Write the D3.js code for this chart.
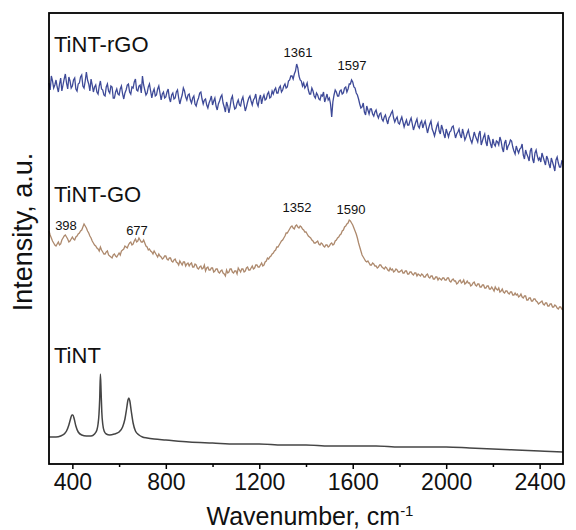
<!DOCTYPE html>
<html><head><meta charset="utf-8">
<script src="https://cdn.jsdelivr.net/npm/d3@7"></script>
<style>
body{margin:0;background:#fff;}
svg text{font-family:"Liberation Sans",Arial,sans-serif;fill:#111;}
</style></head>
<body><div id="chart"></div>
<script>
// ---------- DATA ----------
const xTicks = [400, 800, 1200, 1600, 2000, 2400];
const xMinorTicks = [600, 1000, 1400, 1800, 2200];
const seriesNames = ["TiNT-rGO", "TiNT-GO", "TiNT"];

// TiNT-rGO, sampled every 5 cm-1 from 300 to 2500 (intensity, a.u., offset)
const rgoStart = 300, rgoStep = 5;
const rgoValues = [
381,374,388,383,376,379,384,377,372,380,386,373,379,385,390,381,375,387,383,376,
378,384,386,375,373,380,381,387,389,378,376,383,392,384,380,373,385,379,372,377,
379,372,370,378,383,375,374,369,368,377,380,373,371,378,377,366,366,372,375,370,
369,375,378,370,365,371,374,379,380,372,370,377,376,382,385,374,373,378,379,371,
388,379,374,369,371,377,380,373,366,372,375,368,369,375,378,371,364,370,372,366,
367,372,375,366,362,369,371,365,366,372,374,366,360,365,369,376,373,367,364,369,
370,364,361,366,368,360,358,363,366,371,372,365,360,364,365,359,356,361,364,368,
359,363,366,358,354,360,363,367,369,361,357,352,362,358,351,357,365,368,360,355,
356,361,364,359,358,364,367,360,353,357,362,366,368,363,359,364,366,370,361,358,
365,369,360,366,369,364,365,370,372,366,367,373,370,374,376,371,371,376,378,372,
374,378,380,376,377,383,384,388,388,385,390,393,400,396,388,384,383,378,381,376,
378,381,374,370,370,376,373,368,366,371,369,365,364,369,368,372,362,366,370,364,
366,360,347,362,369,374,372,368,368,373,374,370,371,376,377,372,375,380,380,384,
382,377,376,371,369,365,360,356,357,361,352,349,358,354,350,355,355,350,348,352,
354,349,346,350,351,345,343,347,349,344,340,346,348,351,353,346,342,345,347,341,
340,344,347,342,337,341,344,339,339,343,346,340,334,338,342,345,338,336,341,343,
336,340,343,337,331,336,340,343,335,332,328,333,338,341,333,330,339,335,330,326,
335,331,327,332,333,337,338,332,326,330,332,335,329,326,335,330,324,327,331,334,
328,324,321,326,332,328,325,322,330,333,319,323,327,330,322,318,329,325,320,316,
325,320,318,323,322,319,327,323,316,312,321,324,314,318,320,324,323,317,313,310,
318,314,311,315,316,320,309,305,314,310,307,303,313,316,305,301,311,314,308,304,
306,302,311,307,303,299,308,305,300,296,306,302,298,293,304,307,301,297,297,303,
302];

// TiNT-GO, sampled every 5 cm-1 from 300 to 2500
const goStart = 300, goStep = 5;
const goValues = [
233,229,226,223,221,219,218,220,222,219,220,224,226,228,229,227,225,222,223,225,
227,225,224,227,228,230,231,233,234,237,240,238,236,233,231,228,226,223,221,219,
218,216,215,213,217,214,212,210,210,212,213,209,208,207,206,209,210,208,207,209,
211,209,213,214,215,218,217,216,219,221,222,219,220,223,225,222,223,226,224,222,
222,224,221,218,217,214,215,213,212,210,213,211,209,207,210,208,207,205,206,208,
208,205,204,206,206,203,202,204,205,202,201,199,203,201,199,202,202,198,200,201,
198,200,201,197,197,200,199,196,195,197,198,195,196,199,193,196,197,194,194,196,
196,192,193,195,195,192,191,193,194,191,190,188,194,191,192,195,195,192,191,193,
193,190,196,194,192,195,195,192,193,196,197,194,194,196,198,195,196,199,199,197,
197,199,201,198,199,202,203,206,205,207,208,210,211,213,214,217,217,219,221,223,
224,226,228,231,231,233,235,237,238,236,235,238,239,237,236,238,237,235,234,232,
232,230,228,227,226,224,223,221,221,222,223,220,219,221,220,218,217,219,219,217,
218,220,221,219,220,223,224,226,227,229,230,233,234,237,238,240,241,244,243,241,
239,236,233,230,226,221,217,213,209,207,205,203,202,203,201,199,199,201,200,198,
198,196,197,199,199,197,196,195,197,196,194,193,196,194,195,192,193,195,194,192,
192,193,194,191,191,193,193,190,190,192,192,190,189,191,191,188,190,189,188,190,
189,187,187,189,190,187,186,188,188,185,185,187,187,184,186,185,184,186,186,184,
184,186,186,183,182,184,185,183,183,180,181,183,184,181,182,184,180,181,183,181,
181,178,179,181,182,179,178,180,180,177,177,179,179,176,176,178,178,175,175,177,
175,173,177,175,174,176,172,173,175,172,171,173,173,171,170,172,172,169,169,171,
169,170,167,168,170,167,166,168,168,164,164,166,166,163,163,165,165,163,162,160,
161,162,163,160,159,161,161,158,158,160,160,157,157,159,158,156,155,157,157,155,
154];

// TiNT (wavenumber, intensity)
const tintX = [300,330,350,365,375,385,392,398,402,408,415,425,440,460,480,495,505,510,514,517,520,523,526,530,536,545,560,580,600,615,625,632,638,642,646,652,660,670,685,700,720,750,800,900,1000,1100,1200,1300,1400,1500,1600,1700,1800,1900,2000,2100,2200,2300,2400,2500];
const tintY = [27,27,28,30,33,39,45,49,49,45,38,32,29,28,28,30,34,40,50,65,90,72,52,40,33,30,29,30,32,37,45,55,64,66,63,53,41,33,29,27,26,25,24,22,21,20,20,19,19,18,18,18,17,17,17,16,15,14,13,12];

// Peak annotations
const rgoPeaks = ["1361", "1597"];
const goPeaks = ["398", "677", "1352", "1590"];

// ---------- LAYOUT ----------
const W = 576, H = 530;
const m = {left: 49, right: 13, top: 13, bottom: 66};
const iw = W - m.left - m.right, ih = H - m.top - m.bottom;

const svg = d3.select("#chart").append("svg").attr("width", W).attr("height", H);
const g = svg.append("g").attr("transform", `translate(${m.left},${m.top})`);

const x = d3.scaleLinear().domain([300, 2500]).range([0, iw]);
const y = d3.scaleLinear().domain([0, 451]).range([ih, 0]);

const rgo = rgoValues.map((v, i) => [rgoStart + i * rgoStep, v]);
const go = goValues.map((v, i) => [goStart + i * goStep, v]);
const tint = tintX.map((v, i) => [v, tintY[i]]);

const line = d3.line().x(d => x(d[0])).y(d => y(d[1]));
const smooth = d3.line().x(d => x(d[0])).y(d => y(d[1])).curve(d3.curveMonotoneX);

g.append("path").datum(rgo).attr("d", line)
  .attr("fill", "none").attr("stroke", "#3e4a98").attr("stroke-width", 1.3);
g.append("path").datum(go).attr("d", line)
  .attr("fill", "none").attr("stroke", "#ad896d").attr("stroke-width", 1.3);
g.append("path").datum(tint).attr("d", smooth)
  .attr("fill", "none").attr("stroke", "#454545").attr("stroke-width", 1.5);

// frame
g.append("rect").attr("x", 0).attr("y", 0).attr("width", iw).attr("height", ih)
  .attr("fill", "none").attr("stroke", "#000").attr("stroke-width", 1.8);

// bottom axis
const xAxis = d3.axisBottom(x).tickValues(xTicks).tickSize(5).tickPadding(5).tickFormat(d3.format("d"));
const ax = g.append("g").attr("transform", `translate(0,${ih})`).call(xAxis);
ax.select(".domain").remove();
ax.selectAll(".tick line").attr("stroke", "#000").attr("stroke-width", 1.5);
ax.selectAll(".tick text").attr("font-size", 23).attr("font-family", "Liberation Sans, Arial, sans-serif").attr("fill", "#111");
const axm = g.append("g").attr("transform", `translate(0,${ih})`)
  .call(d3.axisBottom(x).tickValues(xMinorTicks).tickSize(3).tickFormat(""));
axm.select(".domain").remove();
axm.selectAll(".tick line").attr("stroke", "#000").attr("stroke-width", 1.5);

// axis titles
const xt = svg.append("text").attr("x", 310).attr("y", 525).attr("text-anchor", "middle").attr("font-size", 25);
xt.append("tspan").text("Wavenumber, cm");
xt.append("tspan").attr("font-size", 15).attr("dy", -9).text("-1");

svg.append("text").attr("transform", "translate(32,232) rotate(-90)")
  .attr("text-anchor", "middle").attr("font-size", 27).text("Intensity, a.u.");

// series labels
const labelY = [52, 202, 363];
seriesNames.forEach((n, i) => {
  svg.append("text").attr("x", 54).attr("y", labelY[i]).attr("font-size", 22).text(n);
});

// peak labels
const rgoPeakPos = [[298, 57], [352, 70]];
rgoPeaks.forEach((t, i) => svg.append("text").attr("x", rgoPeakPos[i][0]).attr("y", rgoPeakPos[i][1])
  .attr("text-anchor", "middle").attr("font-size", 13).text(t));
const goPeakPos = [[66, 230], [137, 235], [297, 212], [351, 214]];
goPeaks.forEach((t, i) => svg.append("text").attr("x", goPeakPos[i][0]).attr("y", goPeakPos[i][1])
  .attr("text-anchor", "middle").attr("font-size", 13).text(t));
</script>
</body></html>
